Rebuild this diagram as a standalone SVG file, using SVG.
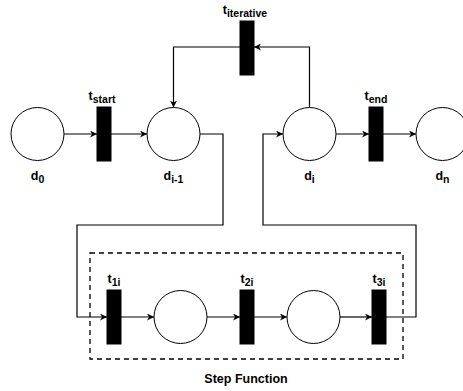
<svg xmlns="http://www.w3.org/2000/svg" width="463" height="391" viewBox="0 0 463 391">
<style>
.place{fill:#fff;stroke:#000;stroke-width:1}
.trans{fill:#000;stroke:#000}
.edge{fill:none;stroke:#000;stroke-width:1.2}
text{font-family:"Liberation Sans",Arial,sans-serif;font-weight:bold;font-size:12.5px;fill:#000;text-anchor:middle}
.sub{font-size:10.5px}
</style>
<defs>
<marker id="arr" viewBox="0 0 10 10" refX="10" refY="5" markerWidth="7" markerHeight="7" orient="auto" markerUnits="userSpaceOnUse">
<path d="M0,0 L10,5 L0,10 L3,5 Z" fill="#000"/>
</marker>
</defs>
<rect x="90" y="253" width="313" height="106" fill="none" stroke="#000" stroke-width="1.3" stroke-dasharray="5,4"/>
<text x="246" y="383">Step Function</text>
<g id="connectors">
<path class="edge" d="M64,134 H97" marker-end="url(#arr)"/>
<path class="edge" d="M111,134 H147" marker-end="url(#arr)"/>
<path class="edge" d="M336,134 H369" marker-end="url(#arr)"/>
<path class="edge" d="M383,134 H416" marker-end="url(#arr)"/>
<path class="edge" d="M309.5,107.5 V47 H254" marker-end="url(#arr)"/>
<path class="edge" d="M240,47 H173.5 V107.5" marker-end="url(#arr)"/>
<path class="edge" d="M200,134 H223 V225 H77 V317 H107" marker-end="url(#arr)"/>
<path class="edge" d="M121,317 H154" marker-end="url(#arr)"/>
<path class="edge" d="M207,317 H240" marker-end="url(#arr)"/>
<path class="edge" d="M254,317 H287" marker-end="url(#arr)"/>
<path class="edge" d="M340,317 H372" marker-end="url(#arr)"/>
<path class="edge" d="M386,317 H416 V225 H263 V134 H283" marker-end="url(#arr)"/>
</g>
<g id="d0"><circle class="place" cx="37.5" cy="134" r="26.5"/><text x="37.5" y="180">d<tspan class="sub" dy="3">0</tspan></text></g>
<g id="dim1"><circle class="place" cx="173.5" cy="134" r="26.5"/><text x="173.5" y="180">d<tspan class="sub" dy="3">i-1</tspan></text></g>
<g id="di"><circle class="place" cx="309.5" cy="134" r="26.5"/><text x="309.5" y="180">d<tspan class="sub" dy="3">i</tspan></text></g>
<g id="dn"><circle class="place" cx="442.5" cy="134" r="26.5"/><text x="442.5" y="180">d<tspan class="sub" dy="3">n</tspan></text></g>
<g id="tstart"><rect class="trans" x="97" y="107" width="14" height="54"/><text x="102" y="100">t<tspan class="sub" dy="3">start</tspan></text></g>
<g id="tend"><rect class="trans" x="369" y="107" width="14" height="54"/><text x="376" y="100">t<tspan class="sub" dy="3">end</tspan></text></g>
<g id="titer"><rect class="trans" x="240" y="21" width="14" height="54"/><text x="245" y="14">t<tspan class="sub" dy="3">iterative</tspan></text></g>
<g id="t1i"><rect class="trans" x="107" y="290" width="14" height="54"/><text x="114" y="283">t<tspan class="sub" dy="3">1i</tspan></text></g>
<g id="p1"><circle class="place" cx="180.5" cy="317" r="26.5"/></g>
<g id="t2i"><rect class="trans" x="240" y="290" width="14" height="54"/><text x="247" y="283">t<tspan class="sub" dy="3">2i</tspan></text></g>
<g id="p2"><circle class="place" cx="313.5" cy="317" r="26.5"/></g>
<g id="t3i"><rect class="trans" x="372" y="290" width="14" height="54"/><text x="379" y="283">t<tspan class="sub" dy="3">3i</tspan></text></g>
</svg>
